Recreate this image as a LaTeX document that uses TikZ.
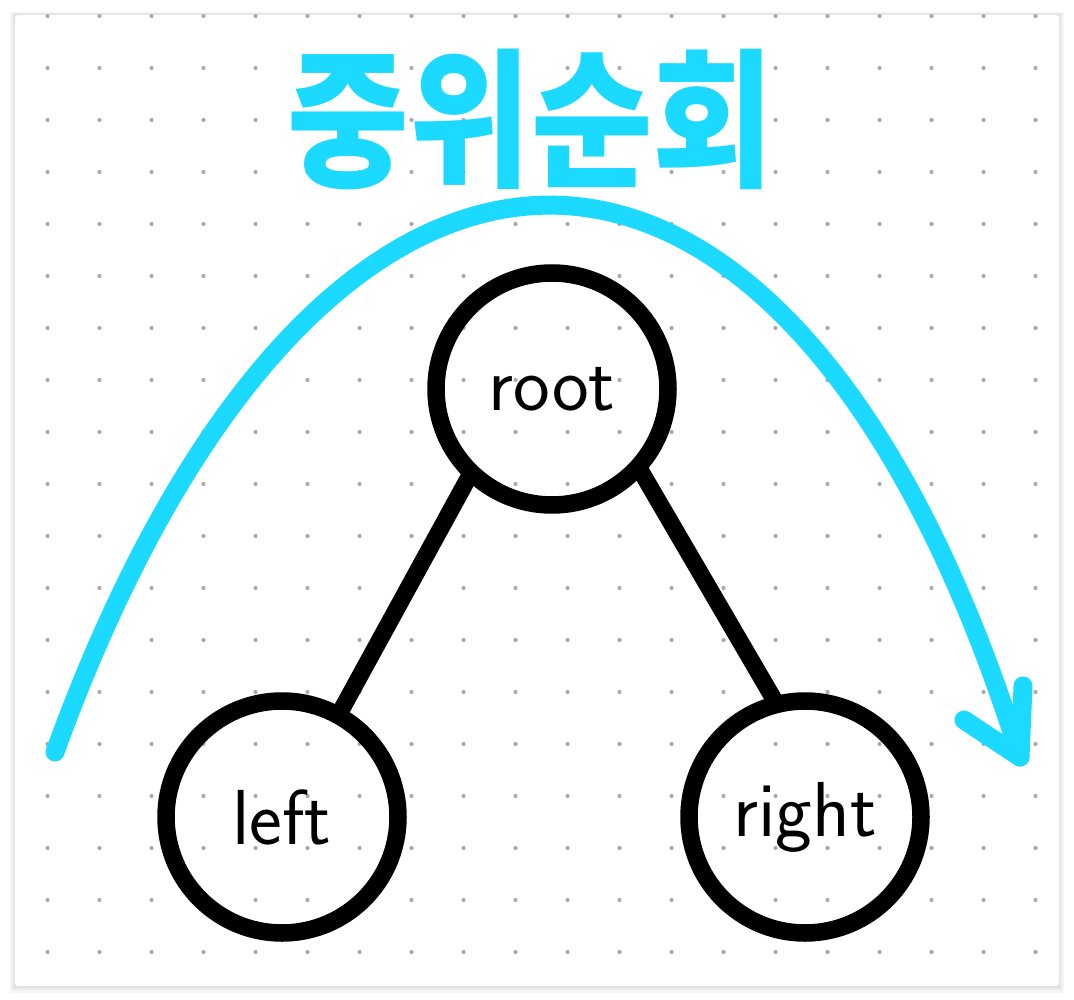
\documentclass[tikz,border=0pt]{standalone}
\usepackage{fontspec}
\usepackage{graphicx}
\newfontfamily\cjk{Noto Sans CJK KR}
\definecolor{cyanpen}{RGB}{27,217,255}
\definecolor{dotgray}{RGB}{170,170,170}
\begin{document}
\begin{tikzpicture}[x=1pt,y=-1pt,
  treenode/.style={circle,draw=black,line width=17.5pt,minimum size=232pt,inner sep=0pt,outer sep=0pt,font=\sffamily\fontsize{78}{78}\selectfont},
  treeedge/.style={line width=17pt,black},
  pen/.style={cyanpen,line width=19pt,line cap=round,line join=round}]
\useasboundingbox (0,0) rectangle (1074,1000);
\fill[white] (0,0) rectangle (1074,1000);
% card with soft shadow
\fill[black!4] (10,12) rectangle (1064,993);
\fill[black!8] (12,13) rectangle (1062,990);
\fill[black!12] (14,14) rectangle (1060,988);
\fill[white,rounded corners=3pt] (15,15) rectangle (1059,986);
% dot grid
\begin{scope}
\clip (15,15) rectangle (1059,986);
\foreach \i in {0,...,19}
  \foreach \j in {0,...,18}
    \fill[dotgray] (47.5+52*\i,16+52*\j) circle (2.1pt);
\end{scope}
% title
\node[text=cyanpen,font=\cjk\bfseries\fontsize{118}{118}\selectfont] (title) at (531,119) {\scalebox{1.12}[1.27]{중위순회}};
% tree
\node[treenode] (root) at (552,389) {root};
\node[treenode] (left) at (282,817) {left};
\node[treenode] (right) at (805,817) {right};
\draw[treeedge] (root.-134) -- (left.61.5);
\draw[treeedge] (root.-42.6) -- (right.104);
% traversal arc
\coordinate (arcstart) at (55,752);
\coordinate (tip) at (1020,757);
\coordinate (headL) at (964,720);
\coordinate (headR) at (1023,686);
\draw[pen] (arcstart) .. controls (320,22) and (790,22) .. (tip);
\draw[pen] (headL) -- (tip) -- (headR);
\end{tikzpicture}
\end{document}
